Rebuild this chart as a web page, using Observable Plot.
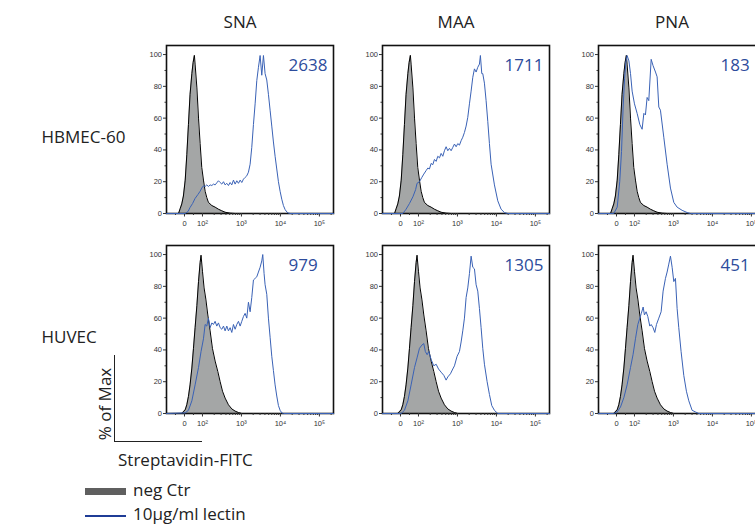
<!DOCTYPE html>
<html><head><meta charset="utf-8">
<script src="https://cdn.jsdelivr.net/npm/d3@7"></script>
<script src="https://cdn.jsdelivr.net/npm/@observablehq/plot@0.6"></script>
<style>
body{margin:0;background:#fff;overflow:hidden}
#wrap{position:relative;width:755px;height:525px;overflow:hidden;background:#fff;font-family:"Open Sans",sans-serif;color:#222}
#chart{position:absolute;left:0;top:0;width:775px}
#chart svg{max-width:none !important}
.ov{position:absolute;white-space:nowrap;font-size:17px;line-height:1}
</style></head><body>
<div id="wrap">
<div id="chart"></div>
<div class="ov" style="left:114px;top:355px;width:88px;height:87px;border-left:1.6px solid #222;border-bottom:1.6px solid #222;box-sizing:border-box"></div>
<div class="ov" style="left:104px;top:404px;transform:translate(-50%,-50%) rotate(-90deg)">% of Max</div>
<div class="ov" style="left:118px;top:451px">Streptavidin-FITC</div>
<div class="ov" style="left:85px;top:488px;width:41px;height:7px;background:#5f5f5f"></div>
<div class="ov" style="left:133px;top:481px">neg Ctr</div>
<div class="ov" style="left:85px;top:515px;width:41px;height:2px;background:#1f3c96"></div>
<div class="ov" style="left:133px;top:505px">10μg/ml lectin</div>
</div>
<script>
const lectins = ["SNA", "MAA", "PNA"];
const cells = ["HBMEC-60", "HUVEC"];
const mfiHBMEC = [2638, 1711, 183];
const mfiHUVEC = [979, 1305, 451];

// [fluorescence, % of max]
const negHBMEC = [[-33,0],[-24,3],[-15,6],[-6,11],[4,21],[13,37],[22,56],[31,75],[41,88],[48,95],[55,99.5],[59,94],[69,79],[78,60],[87,44],[96,29],[106,21],[117,14],[129,10],[142,7],[174,5],[211,4],[257,2.7],[313,1.7],[381,0.8],[512,0.2],[688,0]];
const negHUVEC = [[-15,0],[4,2.3],[13,5.5],[22,10.7],[31,18],[41,28.6],[50,41],[59,54],[69,68],[78,83],[87,95],[92,99.6],[100,89.5],[110,79],[122,72],[137,62],[157,52],[180,41],[211,33],[247,26.5],[284,20],[327,14],[381,9.7],[464,5.5],[565,2.9],[688,1.5],[838,0.6],[1020,0]];

const hbmecSNA = [[4,0],[20,1.3],[31,3.8],[45,6.3],[59,9.5],[75,12],[87,14],[96,16],[106,17.4],[117,17],[129,18],[142,17],[157,18],[174,17.6],[191,18.5],[211,18],[233,19.3],[257,20.6],[284,19.5],[313,18.5],[346,20],[381,18],[421,19],[464,17.6],[512,19.5],[565,18],[624,21],[688,18.5],[759,20.6],[838,19],[925,21],[1020,19.5],[1125,21.6],[1242,22.7],[1370,23.7],[1512,26],[1669,31],[1841,41.6],[2032,56],[2242,69],[2474,83.6],[2729,92],[3012,99.4],[3323,87],[3666,99.4],[4046,88],[4464,84],[4925,75],[5435,65],[5997,55],[6617,45],[7301,36],[8055,28],[8889,20],[9806,14],[10820,9],[11940,5],[13170,2.5],[14530,1],[16040,0.3],[17700,0]];
const hbmecMAA = [[13,0],[31,2.7],[50,6.3],[69,10.5],[84,15],[92,19],[106,20],[122,22.7],[137,24.8],[157,27],[174,28.6],[191,28],[211,31.5],[233,30.7],[257,34],[284,32.8],[313,36],[346,35],[381,37.8],[421,36],[464,39.5],[512,42],[565,39.5],[624,41],[688,39.5],[759,41.6],[838,43.7],[925,42],[1020,44],[1125,43],[1242,45.8],[1370,48],[1512,51],[1669,55],[1841,60.5],[2032,69],[2242,77],[2474,85.7],[2729,91],[3012,89],[3323,92],[3666,94],[3880,99.4],[4210,88],[4464,88],[4925,82],[5435,71],[5997,58],[6617,44],[7301,31],[8889,18],[10820,8],[13170,2.7],[16040,0.6],[19530,0]];
const hbmecPNA = [[-15,0],[4,4],[18,20],[28,39],[37,67],[45,85],[52,95],[59,99.4],[69,96],[78,88],[87,77],[100,69],[117,63],[137,56],[157,53],[174,63],[191,62],[211,73],[233,71],[268,97],[300,93],[346,89],[381,86],[421,67],[464,65],[565,48],[688,31],[838,16],[1020,7],[1242,4],[1669,2],[2242,0.6],[2729,0]];
const huvecSNA = [[4,0.4],[22,2],[41,8],[59,18],[78,29],[92,39],[106,47],[117,56],[129,55],[142,60],[157,54],[174,57],[191,56],[211,58],[233,55],[257,57],[284,54],[313,53],[346,55],[381,52],[421,55],[464,52],[512,54],[565,51],[624,56],[688,53],[759,56],[838,58],[925,55],[1020,58],[1125,61],[1242,63],[1370,60],[1512,70],[1669,64],[1841,73],[2032,84],[2242,85],[2474,86],[2729,89],[3012,92],[3323,96],[3520,100],[3810,88],[4046,81],[4464,75],[4925,60],[5435,48],[5997,36],[6617,27],[7301,18],[8055,11],[8889,5],[9806,2],[10820,0.4],[11940,0]];
const huvecMAA = [[4,0],[22,2],[41,8],[59,18],[78,29],[92,35],[106,41],[122,43],[137,44],[150,39],[167,37],[184,39],[211,34],[247,30],[284,31],[327,28],[381,26],[447,24],[512,21],[565,23],[662,25],[759,28],[838,30],[980,36],[1125,39],[1242,45],[1370,52],[1512,60],[1669,73],[1841,79],[2032,88],[2242,99],[2474,92],[2729,91],[3012,81],[3323,77],[3666,66],[4046,54],[4464,41],[4925,31],[5770,20],[6617,12],[7590,5],[8889,2],[10820,0]];
const huvecPNA = [[-15,0],[4,1],[22,4],[41,10],[59,18],[78,29],[92,37],[106,47],[122,56],[137,60],[150,63],[167,67],[180,62],[199,64],[220,61],[247,55],[268,56],[300,54],[332,51],[367,56],[421,60],[483,64],[543,77],[624,85],[688,89],[759,94],[838,99],[925,92],[1020,83],[1125,85],[1242,66],[1370,54],[1570,39],[1841,24],[2150,14],[2474,8],[3012,2],[3666,1],[4464,0]];

const xMajor = [0, 100, 1000, 10000, 100000];
const xMajorLabels = ["0", "10²", "10³", "10⁴", "10⁵"];
const xMinor = [-50, 50, 200,300,400,500,600,700,800,900, 2000,3000,4000,5000,6000,7000,8000,9000, 20000,30000,40000,50000,60000,70000,80000,90000, 200000];
const yMajor = [0, 20, 40, 60, 80, 100];
const yMinor = [10, 30, 50, 70, 90];
const xRange = [-100, 230000];
const yRange = [0, 105.7];

// biexponential-like display transform (linear near zero, log above 10^2)
const LIN = 0.4615;
const logicle = v => v >= 100 ? Math.log10(v) - 2 + LIN : v * LIN / 100;

const negCurves = [negHBMEC, negHUVEC];
const lectinCurves = [[hbmecSNA, hbmecMAA, hbmecPNA], [huvecSNA, huvecMAA, huvecPNA]];
const mfi = [mfiHBMEC, mfiHUVEC];

const withBase = c => [[xRange[0], 0], ...c, [xRange[1], 0]];
const negRows = cells.flatMap((cell, i) =>
  withBase(negCurves[i]).map(([f, p]) => ({cell, x: logicle(f), pct: p})));
const blueRows = cells.flatMap((cell, i) => lectins.flatMap((lectin, j) =>
  withBase(lectinCurves[i][j]).map(([f, p]) => ({cell, lectin, x: logicle(f), pct: p}))));
const mfiRows = cells.flatMap((cell, i) => lectins.map((lectin, j) => ({cell, lectin, value: mfi[i][j]})));

const labelOf = new Map(xMajor.map((v, i) => [logicle(v), xMajorLabels[i]]));

const chart = Plot.plot({
  width: 775, height: 440,
  marginLeft: 165, marginRight: 10, marginTop: 45, marginBottom: 27,
  style: {fontFamily: "'Liberation Sans', Arial, sans-serif", fontSize: "7.5px", color: "#333", background: "white", overflow: "visible", maxWidth: "none"},
  fx: {domain: lectins, paddingInner: 0.2286, paddingOuter: 0, axis: null},
  fy: {domain: cells, paddingInner: 0.16, paddingOuter: 0, axis: null},
  x: {domain: xRange.map(logicle), axis: null},
  y: {domain: yRange, axis: null},
  marks: [
    Plot.areaY(negRows, {fy: "cell", x: "x", y: "pct", fill: "#a4a6a6"}),
    Plot.lineY(negRows, {fy: "cell", x: "x", y: "pct", stroke: "#000", strokeWidth: 1}),
    Plot.frame({stroke: "#111", strokeWidth: 1.6}),
    Plot.axisY({ticks: yMajor, tickSize: 3, tickPadding: 1.5, facetAnchor: null, label: null}),
    Plot.axisY({ticks: yMinor, tickSize: 1.5, tickFormat: () => "", facetAnchor: null, label: null}),
    Plot.axisX({ticks: xMajor.map(logicle), tickFormat: d => labelOf.get(d), tickSize: 3.5, tickPadding: 4, facetAnchor: null, label: null}),
    Plot.axisX({ticks: xMinor.map(logicle), tickSize: 2, tickFormat: () => "", facetAnchor: null, label: null}),
    Plot.line(blueRows, {fx: "lectin", fy: "cell", x: "x", y: "pct", stroke: "#3a62b6", strokeWidth: 1}),
    Plot.text(mfiRows, {fx: "lectin", fy: "cell", text: d => String(d.value), frameAnchor: "top-left", textAnchor: "start", lineAnchor: "middle", dx: 122, dy: 20, fontSize: 17, fill: "#2d4c9c", fontFamily: "Open Sans"}),
    Plot.text(lectins, {fx: d => d, text: d => d, frameAnchor: "top", lineAnchor: "middle", dx: -10, dy: -23, fontSize: 17, fill: "#222", fontFamily: "Open Sans", facetAnchor: "top"}),
    Plot.text(cells, {fy: d => d, text: d => d, frameAnchor: "left", textAnchor: "start", lineAnchor: "middle", dx: -125, dy: 8, fontSize: 17, fill: "#222", fontFamily: "Open Sans", facetAnchor: "left"})
  ]
});
document.getElementById("chart").appendChild(chart);
</script>
</body></html>
